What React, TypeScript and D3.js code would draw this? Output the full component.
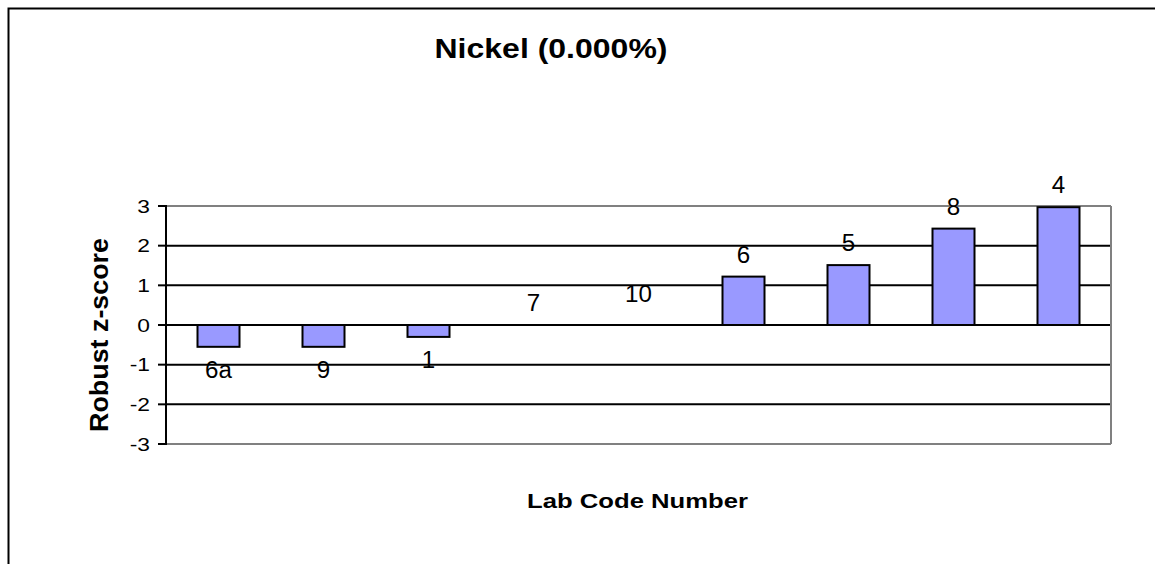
import React from "react";
import * as d3 from "d3";

const categories = ["6a", "9", "1", "7", "10", "6", "5", "8", "4"];
const zScores = [-0.55, -0.55, -0.3, 0, 0, 1.22, 1.51, 2.43, 2.97];
const yTicks = [-3, -2, -1, 0, 1, 2, 3];
const titleText = "Nickel (0.000%)";
const xTitle = "Lab Code Number";
const yTitle = "Robust  z-score";
// small manual nudges of data labels as in the original chart
const labelNudge: Record<string, number> = { "10": -9 };

const W = 1155;
const H = 564;
const plot = { left: 166, right: 1111, top: 206, bottom: 444 };
const FONT = "Arial, 'Liberation Sans', Helvetica, sans-serif";

export default function App() {
  const x = d3
    .scaleBand<string>()
    .domain(categories)
    .range([plot.left, plot.right])
    .paddingInner(0.6)
    .paddingOuter(0.3);
  const y = d3.scaleLinear().domain([-3, 3]).range([plot.bottom, plot.top]);

  return (
    <svg
      width={W}
      height={H}
      style={{ position: "absolute", left: 0, top: 0, background: "#fff" }}
      fontFamily={FONT}
    >
      <rect x={0} y={0} width={W} height={H} fill="#fff" />
      {/* outer chart border */}
      <rect x={8.5} y={8.5} width={W + 20} height={H + 20} fill="none" stroke="#000" strokeWidth={2} />

      {/* title */}
      <text
        x={551}
        y={58}
        textAnchor="middle"
        fontWeight="bold"
        fontSize={28}
        textLength={233}
        lengthAdjust="spacingAndGlyphs"
        fill="#000"
      >
        {titleText}
      </text>

      {/* gridlines */}
      {yTicks
        .filter((t) => t !== -3 && t !== 3)
        .map((t) => (
          <line
            key={"g" + t}
            x1={plot.left}
            x2={plot.right}
            y1={y(t)}
            y2={y(t)}
            stroke="#000"
            strokeWidth={2}
          />
        ))}
      {/* plot border (gray) */}
      <line x1={plot.left} x2={plot.right} y1={y(3)} y2={y(3)} stroke="#808080" strokeWidth={2} />
      <line x1={plot.left} x2={plot.right} y1={y(-3)} y2={y(-3)} stroke="#808080" strokeWidth={2} />
      <line x1={plot.right} x2={plot.right} y1={y(3)} y2={y(-3)} stroke="#808080" strokeWidth={2} />

      {/* bars */}
      {categories.map((c, i) => {
        const v = zScores[i];
        if (v === 0) return null;
        const y0 = y(Math.max(0, v));
        const y1 = y(Math.min(0, v));
        return (
          <rect
            key={"b" + c}
            x={x(c)}
            y={y0}
            width={x.bandwidth()}
            height={y1 - y0}
            fill="#9999FF"
            stroke="#000"
            strokeWidth={2}
          />
        );
      })}

      {/* y axis line and ticks */}
      <line x1={plot.left} x2={plot.left} y1={y(3) - 1} y2={y(-3) + 1} stroke="#000" strokeWidth={2} />
      {yTicks.map((t) => (
        <g key={"t" + t}>
          <line x1={plot.left - 8} x2={plot.left} y1={y(t)} y2={y(t)} stroke="#000" strokeWidth={2} />
          <g transform={`translate(${plot.left - 16},${y(t) + 6.5}) scale(1.2,1)`}>
            <text x={0} y={0} textAnchor="end" fontSize={19} fill="#000">
              {t}
            </text>
          </g>
        </g>
      ))}

      {/* data labels */}
      {categories.map((c, i) => {
        const v = zScores[i];
        const cx = (x(c) as number) + x.bandwidth() / 2;
        const by = v >= 0 ? y(v) - 14 : y(v) + 31;
        const yy = by + (labelNudge[c] || 0);
        return (
          <g key={"l" + c} transform={`translate(${cx},${yy}) scale(1.05,1)`}>
            <text x={0} y={0} textAnchor="middle" fontSize={23} fill="#000">
              {c}
            </text>
          </g>
        );
      })}

      {/* axis titles */}
      <text
        x={637.5}
        y={508}
        textAnchor="middle"
        fontWeight="bold"
        fontSize={21}
        textLength={221}
        lengthAdjust="spacingAndGlyphs"
        fill="#000"
      >
        {xTitle}
      </text>
      <g transform={`translate(108,335) scale(1.2,1) rotate(-90)`}>
        <text
          x={0}
          y={0}
          textAnchor="middle"
          fontWeight="bold"
          fontSize={21}
          textLength={194}
          lengthAdjust="spacingAndGlyphs"
          fill="#000"
        >
          {yTitle}
        </text>
      </g>
    </svg>
  );
}
